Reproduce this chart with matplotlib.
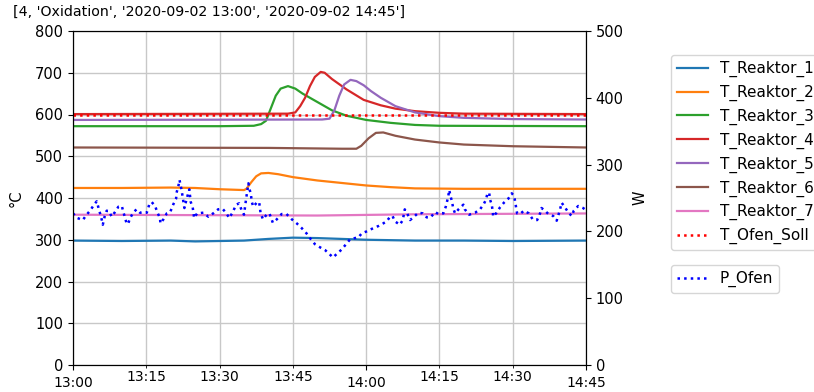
import matplotlib
matplotlib.use("Agg")
import matplotlib.pyplot as plt
import numpy as np

# ---- data (minutes after 13:00) ----
t1 = [0, 10, 20, 25, 30, 35, 40, 45, 50, 55, 60, 70, 80, 90, 105]
r1 = [298, 297, 298, 296, 297, 298, 302, 305, 304, 302, 300, 298, 298, 297, 298]

t2 = [0, 10, 20, 25, 30, 35, 35.5, 36.5, 37.5, 38.5, 40, 42, 45, 50, 55, 60, 65, 70, 80, 105]
r2 = [424, 424, 425, 424, 421, 419, 422, 438, 452, 459, 460, 457, 450, 442, 436, 430, 426, 423, 422, 422]

t3 = [0, 30, 37, 38.5, 39.5, 40.5, 41.5, 42.5, 44, 45.5, 47, 50, 53, 56, 60, 65, 70, 75, 105]
r3 = [572, 572, 573, 577, 585, 615, 645, 662, 668, 662, 650, 630, 610, 597, 587, 580, 575, 573, 572]

t4 = [0, 44, 45.5, 46.5, 47.5, 48.5, 49.5, 50.7, 51.5, 53, 56, 59.5, 63, 66, 70, 75, 80, 105]
r4 = [601, 602, 605, 620, 640, 668, 690, 702, 700, 685, 660, 635, 622, 614, 608, 604, 602, 601]

t5 = [0, 51, 52.5, 53.5, 54.5, 55.5, 56.8, 58, 59.5, 61, 63, 66, 70, 75, 80, 90, 105]
r5 = [587, 588, 590, 610, 645, 672, 683, 680, 670, 656, 640, 620, 605, 596, 592, 589, 588]

t6 = [0, 40, 55, 58, 59, 60.5, 62, 63.5, 66, 70, 75, 80, 90, 105]
r6 = [521, 520, 518, 518, 525, 543, 556, 557, 549, 540, 533, 528, 524, 521]

t7 = [0, 50, 70, 105]
r7 = [360, 358, 361, 363]

t_soll = [0, 105]
soll = [600, 600]

p_min = [0.0, 0.9, 2.0, 2.8, 3.6, 4.3, 4.85, 5.2, 5.5, 5.9, 6.1, 6.5, 6.9, 7.4, 7.9, 8.6, 9.3,
         10.0, 10.3, 10.6, 11.0, 11.3, 11.7, 12.3, 13.0, 13.7, 14.4, 15.1, 15.6, 16.1, 16.8,
         17.3, 17.8, 17.9, 18.5, 19.2, 19.9, 20.5, 21.1, 21.2, 21.6, 21.8, 22.2, 22.6, 22.8,
         23.1, 23.8, 24.1, 24.5, 24.8, 25.4, 26.7, 27.7, 28.7, 29.7, 30.6, 31.3, 32.0, 32.7,
         33.4, 34.0, 34.5, 35.0, 35.4, 35.7, 35.9, 36.1, 36.4, 36.6, 36.9, 37.6, 38.1, 38.4,
         38.9, 39.6, 40.2, 40.9, 41.7, 42.7, 43.7, 44.8, 45.8, 46.8, 47.8, 48.5, 49.5, 50.6,
         51.6, 52.5, 53.2, 54.1, 55.0, 55.9, 56.7, 57.7, 58.4, 59.1, 60.1, 61.5, 62.5, 63.5,
         64.2, 64.9, 65.4, 65.9, 66.9, 67.5, 67.9, 68.4, 69.0, 69.8, 70.7, 71.6, 72.4, 73.2,
         74.1, 74.8, 75.8, 76.3, 76.8, 77.0, 77.3, 77.6, 77.8, 78.2, 78.9, 79.9, 80.2, 81.1,
         82.3, 83.3, 84.0, 84.5, 84.8, 85.2, 85.3, 85.7, 85.9, 86.0, 86.7, 87.4, 88.2, 89.1,
         89.8, 90.3, 90.5, 90.7, 90.9, 91.5, 92.3, 93.3, 94.1, 95.0, 95.6, 95.9, 96.6, 97.3,
         98.3, 99.0, 99.4, 99.7, 100.0, 100.7, 101.4, 102.1, 102.5, 103.4, 104.4, 105.0]
p_w = [227, 220, 217, 225, 232, 240, 245, 236, 228, 217, 210, 223, 231, 230, 222, 229, 237,
       238, 229, 222, 211, 212, 220, 228, 233, 228, 228, 228, 240, 244, 238,
       228, 220, 212, 218, 227, 229, 240, 249, 258, 269, 277, 263, 244, 235,
       244, 263, 244, 236, 220, 227, 228, 222, 227, 233, 234, 228, 220, 229,
       240, 242, 232, 225, 247, 262, 272, 264, 256, 244, 237, 243, 244, 227,
       218, 225, 227, 213, 218, 226, 226, 218, 212, 205, 197, 190, 181, 176,
       172, 166, 161, 167, 173, 181, 188, 190, 191, 197, 200, 205, 208, 212,
       215, 222, 223, 215, 210, 217, 233, 227, 217, 222, 228, 227, 221, 221,
       229, 226, 227, 237, 252, 262, 252, 244, 235, 227, 233, 240, 233, 225,
       228, 233, 240, 247, 256, 258, 249, 240, 231, 222, 228, 236, 243, 249,
       257, 253, 244, 235, 227, 226, 231, 227, 218, 217, 227, 235, 231, 226,
       223, 216, 226, 233, 243, 236, 228, 223, 231, 238, 235, 232]

major_ticks = [0, 60, 105]
major_labels = ["13:00", "14:00", "14:45"]
minor_ticks = [15, 30, 45, 75, 90]
minor_labels = ["13:15", "13:30", "13:45", "14:15", "14:30"]

title = "[4, 'Oxidation', '2020-09-02 13:00', '2020-09-02 14:45']"

# ---- figure ----
W, H = 814, 392
fig = plt.figure(figsize=(W / 100, H / 100), dpi=100)
ax = fig.add_axes([73 / W, 1 - 365 / H, 513 / W, 334 / H])
ax2 = ax.twinx()

series = [(t1, r1, "T_Reaktor_1", "C0"), (t2, r2, "T_Reaktor_2", "C1"),
          (t3, r3, "T_Reaktor_3", "C2"), (t4, r4, "T_Reaktor_4", "C3"),
          (t5, r5, "T_Reaktor_5", "C4"), (t6, r6, "T_Reaktor_6", "C5"),
          (t7, r7, "T_Reaktor_7", "C6")]
for tt, vv, lab, col in series:
    ax.plot(tt, vv, color=col, lw=1.6, label=lab)
ax.plot(t_soll, soll, color="red", ls=":", lw=1.8, label="T_Ofen_Soll")

ax2.plot(p_min, p_w, color="blue", ls=":", lw=1.8, label="P_Ofen")

ax.set_xlim(0, 105)
ax.set_ylim(0, 800)
ax.set_yticks(np.arange(0, 801, 100))
ax2.set_ylim(0, 500)
ax2.set_yticks(np.arange(0, 501, 100))

ax.set_xticks(major_ticks)
ax.set_xticklabels(major_labels)
ax.set_xticks(minor_ticks, minor=True)
ax.set_xticklabels(minor_labels, minor=True)
ax.tick_params(axis="x", which="major", length=3.5, pad=4.5, labelsize=10)
ax.tick_params(axis="x", which="minor", length=2, pad=1.5, labelsize=10)
ax.tick_params(axis="y", labelsize=10.5)
ax2.tick_params(axis="y", labelsize=10.5)

ax.grid(True, which="both", axis="x", color="#c8c8c8", lw=1)
ax.grid(True, which="major", axis="y", color="#c8c8c8", lw=1)
ax.set_axisbelow(True)

ax.set_ylabel("°C", fontsize=10.5, labelpad=8)
ax2.set_ylabel("W", fontsize=10.5, labelpad=6)

fig.text(209 / W, 1 - 5 / H, title, fontsize=10.2, ha="center", va="top")

fig.legend(handles=ax.get_lines(), loc="upper left",
           bbox_to_anchor=(671 / W, 1 - 55 / H), fontsize=11, borderaxespad=0)
fig.legend(handles=ax2.get_lines(), loc="upper left",
           bbox_to_anchor=(671 / W, 1 - 265 / H), fontsize=11, borderaxespad=0)

fig.savefig("out.png", dpi=100)
